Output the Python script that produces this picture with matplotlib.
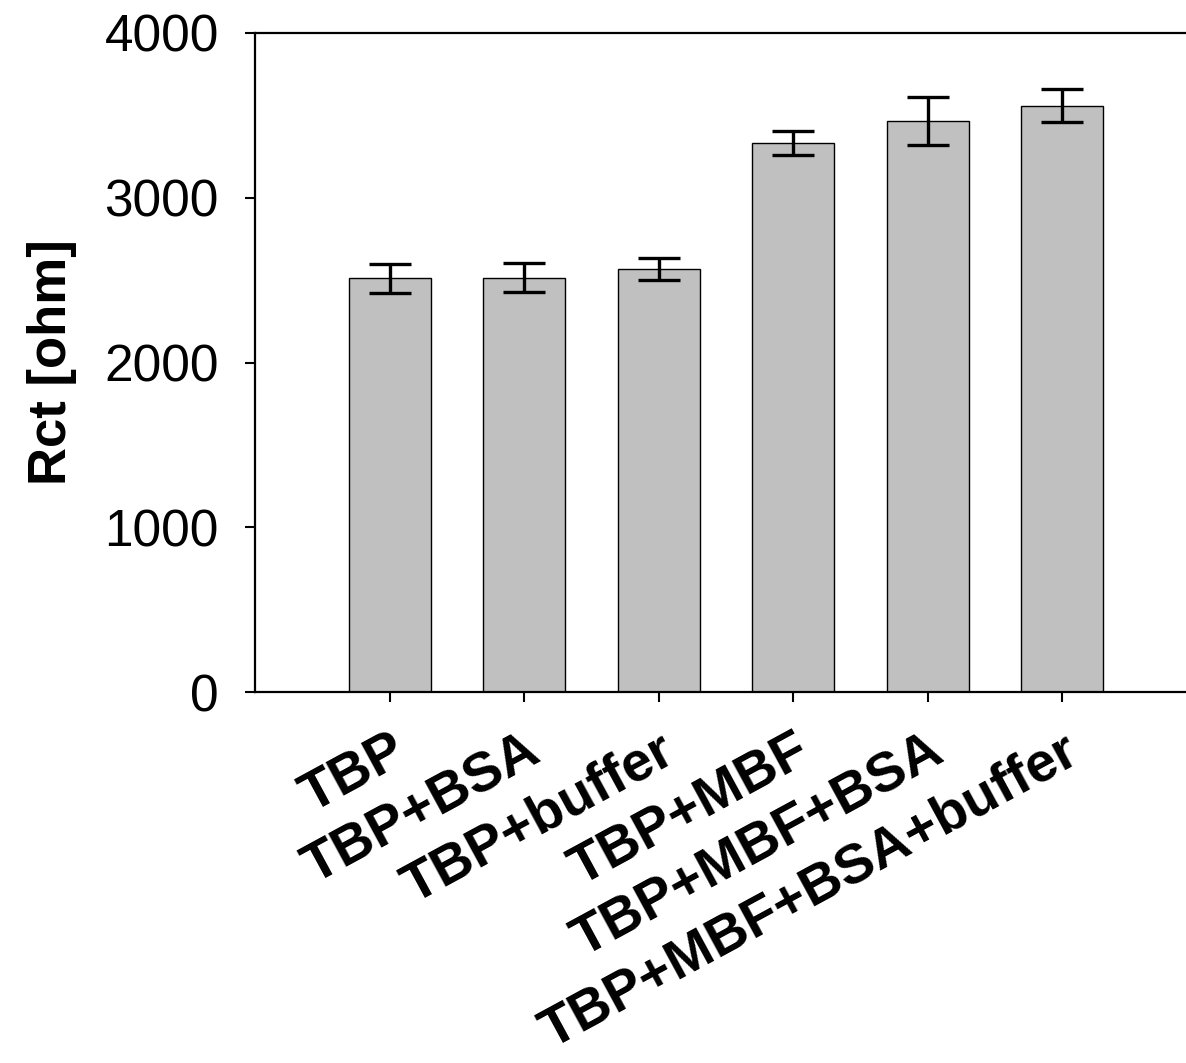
import matplotlib
matplotlib.use('Agg')
import matplotlib.pyplot as plt
import numpy as np

# data
groups = ['TBP', 'TBP+BSA', 'TBP+buffer', 'TBP+MBF', 'TBP+MBF+BSA', 'TBP+MBF+BSA+buffer']
rct = [2510, 2515, 2567, 3330, 3466, 3559]
rct_err = [88, 87, 67, 73, 145, 100]

plt.rcParams['font.family'] = ['Liberation Sans', 'DejaVu Sans']

fig = plt.figure(figsize=(11.86, 10.63), dpi=100)
# right spine sits just outside the picture, as in the reference
ax = fig.add_axes([255 / 1186, 371 / 1063, 942 / 1186, 659 / 1063])

x = np.arange(1, len(groups) + 1)
ax.bar(x, rct, width=0.61, color='#c0c0c0', edgecolor='black', linewidth=1.0, zorder=2)
ax.errorbar(x, rct, yerr=rct_err, fmt='none', ecolor='black', elinewidth=2.4,
            capsize=15, capthick=2.4, zorder=3)

ax.set_xlim(0, 7)
ax.set_ylim(0, 4000)
ax.set_yticks([0, 1000, 2000, 3000, 4000])
ax.set_xticks(x)
ax.set_xticklabels(groups, rotation=28.5, ha='right', va='top', rotation_mode='anchor',
                   fontsize=40, fontweight='bold')
ax.tick_params(axis='y', direction='out', length=7, width=1.5, labelsize=37, pad=19)
ax.tick_params(axis='x', direction='out', length=7, width=1.5, pad=17)

for side in ['left', 'bottom', 'top', 'right']:
    ax.spines[side].set_linewidth(1.6)

ax.set_ylabel('Rct [ohm]', fontsize=38, fontweight='bold', labelpad=20)

fig.savefig('out.png', dpi=100)
